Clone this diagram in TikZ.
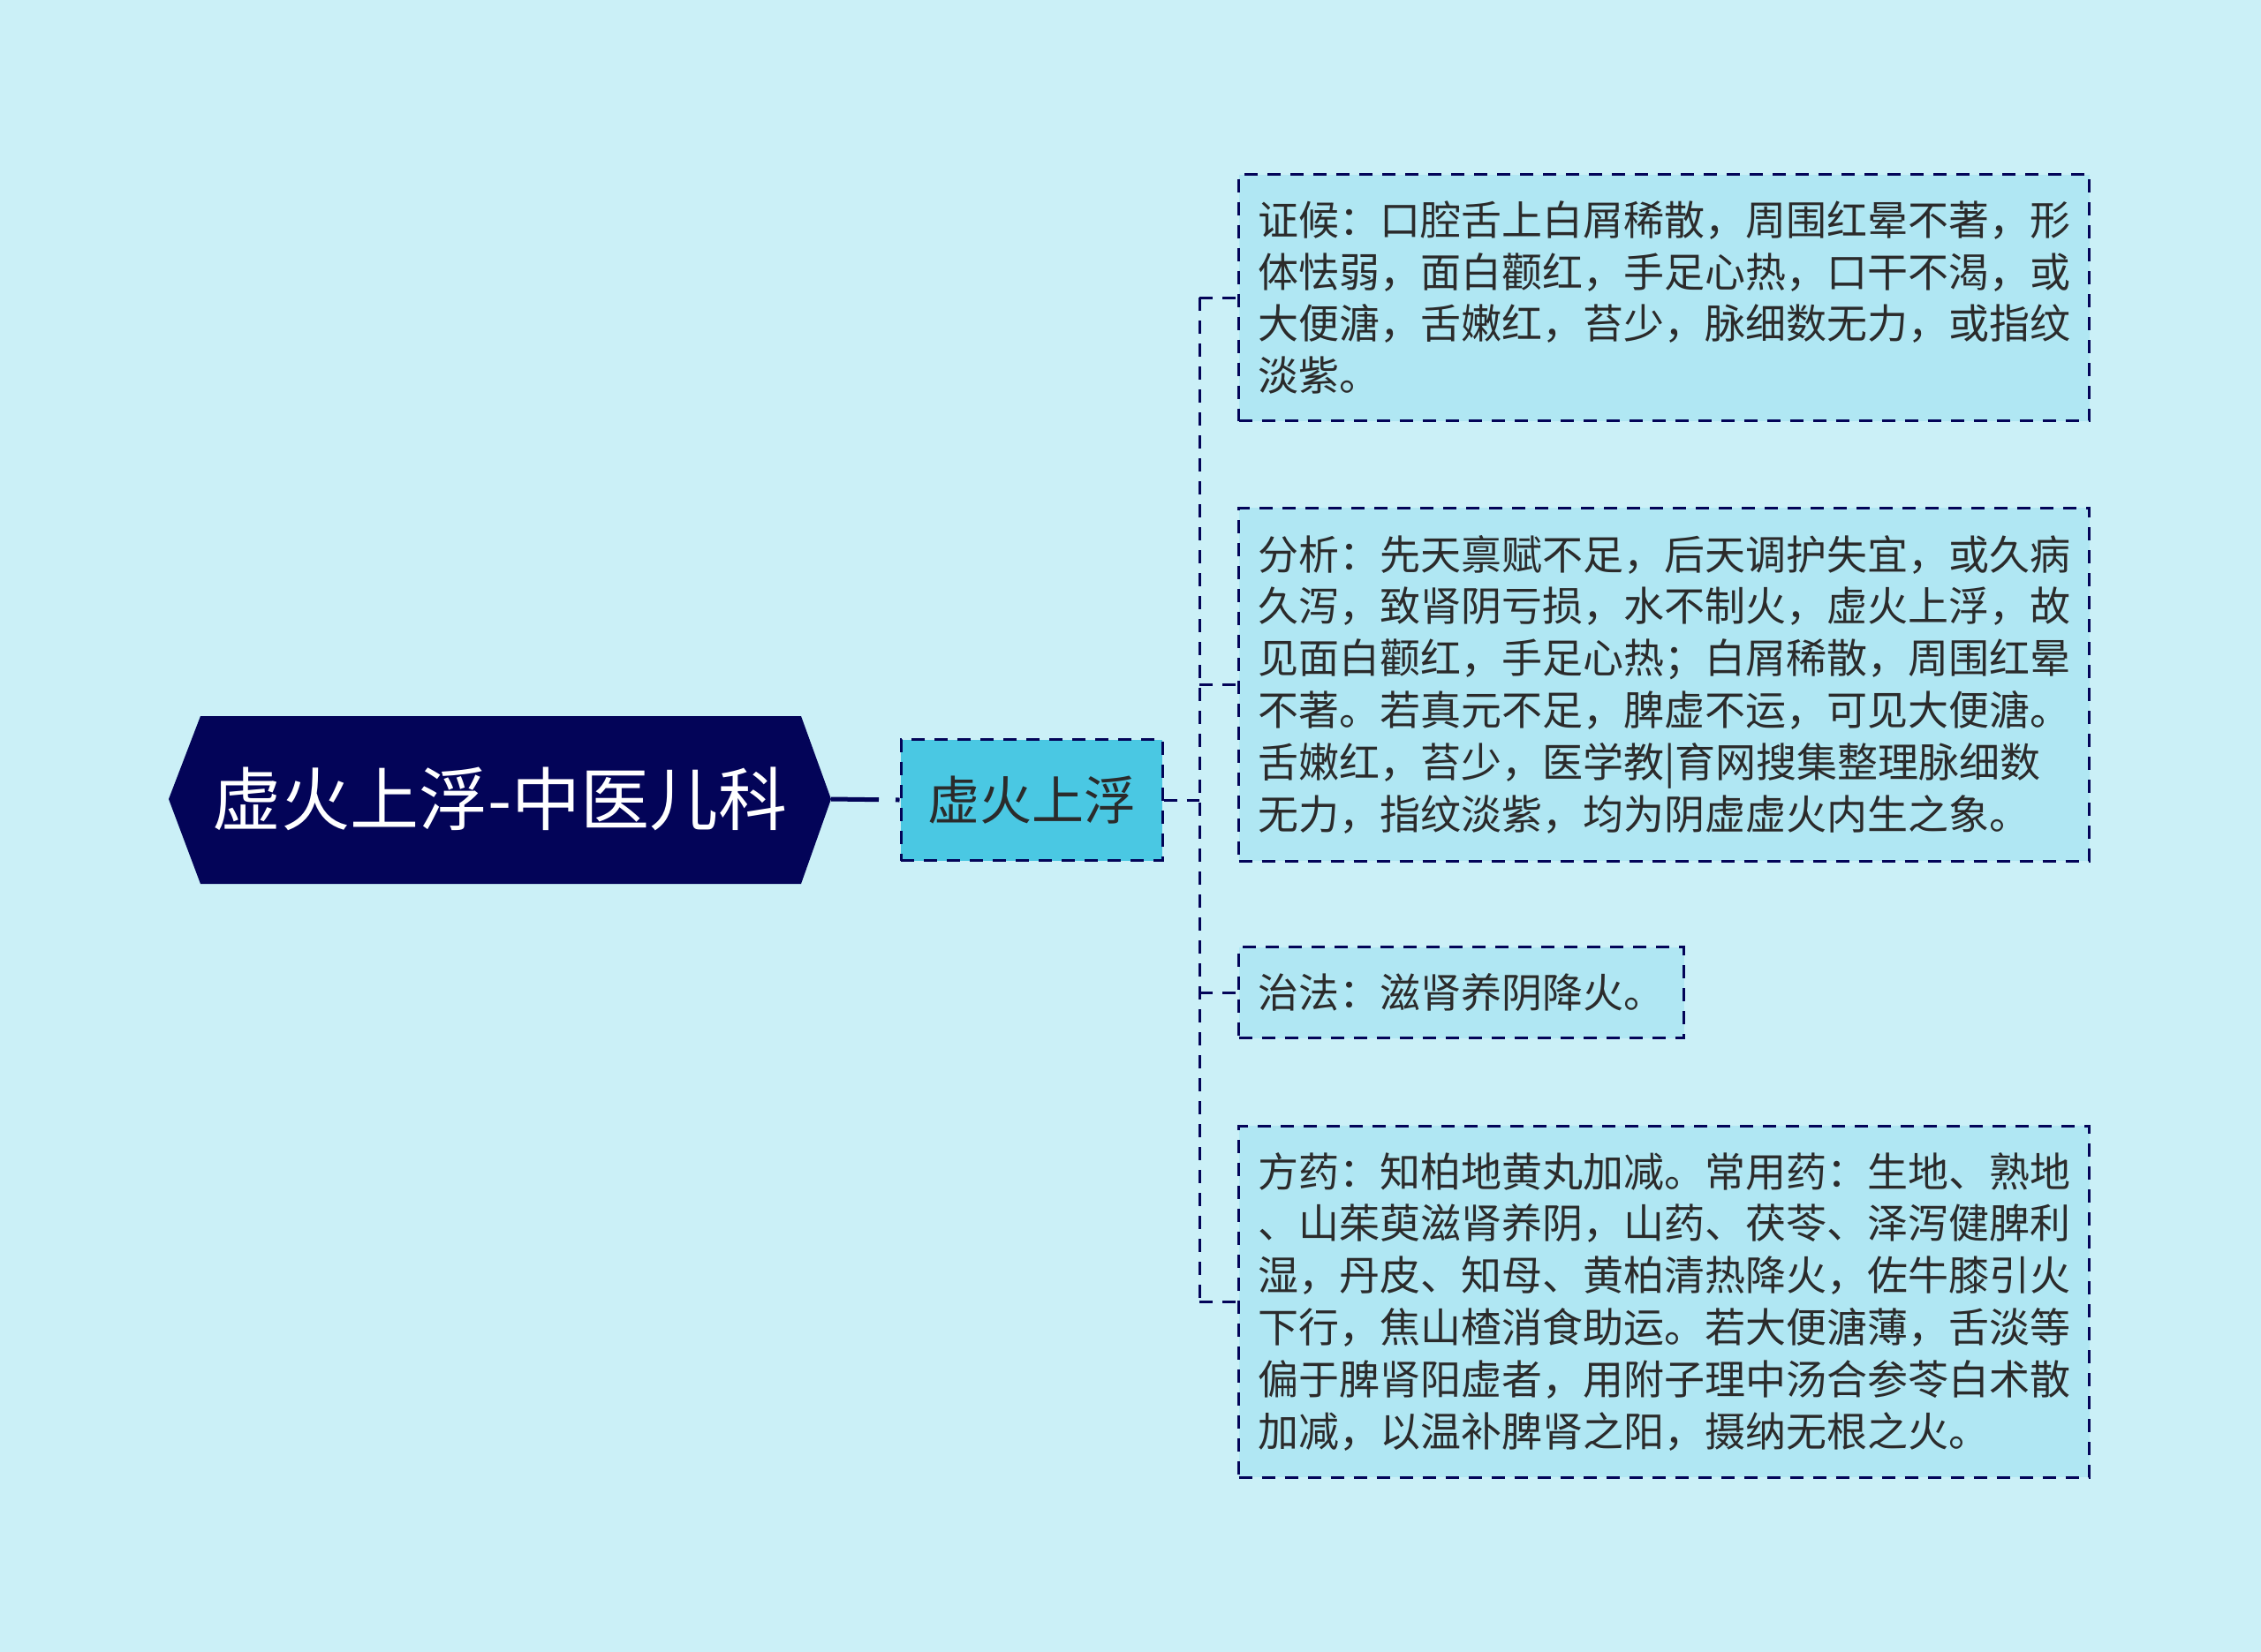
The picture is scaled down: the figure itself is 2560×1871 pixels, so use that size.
\documentclass[tikz,border=0pt]{standalone}
\usepackage{fontspec}
\newfontfamily\cjk{Noto Sans CJK SC}
\definecolor{navy}{RGB}{3,4,88}
\definecolor{bgc}{RGB}{203,240,247}
\definecolor{leafc}{RGB}{176,231,243}
\definecolor{childc}{RGB}{74,200,227}
\definecolor{txt}{RGB}{43,43,43}
\begin{document}
\begin{tikzpicture}[x=1pt,y=-1pt,
  conn/.style={draw=navy,line width=3pt,dash pattern=on 15pt off 11pt},
  leaf/.style={draw=navy,fill=leafc,line width=3pt,dash pattern=on 15pt off 11pt,
    anchor=west,inner sep=0pt,align=left,text=txt,
    font=\cjk\fontsize{46}{58.8}\selectfont},
]
\fill[bgc] (0,0) rectangle (2560,1871);
\useasboundingbox (0,0) rectangle (2560,1871);

% root hexagon
\fill[navy] (191,905) -- (227,811) -- (907,811) -- (941,905) -- (907,1001) -- (227,1001) -- cycle;
\node[text=white,inner sep=0pt,font=\cjk\fontsize{78}{90}\selectfont] (root) at (566,905) {虚火上浮-中医儿科};
\coordinate (rootE) at (941,905);

% child
\node[draw=navy,fill=childc,line width=3pt,dash pattern=on 15pt off 11pt,
  minimum width=296pt,minimum height=137pt,inner sep=0pt,text=txt,
  font=\cjk\fontsize{59}{70}\selectfont] (child) at (1168,906) {虚火上浮};

% leaves
\node[leaf,minimum width=963pt,minimum height=279pt] (b1) at (1401,337) {证候：口腔舌上白屑稀散，周围红晕不著，形\\体怯弱，面白颧红，手足心热，口干不渴，或\\大便溏，舌嫩红，苔少，脉细数无力，或指纹\\淡紫。};
\node[leaf,minimum width=963pt,minimum height=400pt] (b2) at (1401,775) {分析：先天禀赋不足，后天调护失宜，或久病\\久泻，致肾阴亏损，水不制火，虚火上浮，故\\见面白颧红，手足心热；白屑稀散，周围红晕\\不著。若真元不足，脾虚不运，可见大便溏。\\舌嫩红，苔少，医学教|育网搜集整理脉细数\\无力，指纹淡紫，均为阴虚虚火内生之象。};
\node[leaf,minimum width=504pt,minimum height=103pt] (b3) at (1401,1124) {治法：滋肾养阴降火。};
\node[leaf,minimum width=963pt,minimum height=398pt] (b4) at (1401,1474) {方药：知柏地黄丸加减。常用药：生地、熟地\\、山茱萸滋肾养阴，山药、茯苓、泽泻健脾利\\湿，丹皮、知母、黄柏清热降火，佐牛膝引火\\下行，焦山楂消食助运。若大便溏薄，舌淡等\\偏于脾肾阳虚者，用附子理中汤合参苓白术散\\加减，以温补脾肾之阳，摄纳无根之火。};

% connectors
\draw[navy,line width=5pt,dash pattern=on 54pt off 19pt on 12pt off 100pt] (rootE) -- (child.west);
\coordinate (j) at (1358,906);
\draw[conn] (child.east) -- (j);
\draw[conn] (b1.west -| j) -- (b4.west -| j);
\draw[conn] (b1.west -| j) -- (b1.west);
\draw[conn] (b2.west -| j) -- (b2.west);
\draw[conn] (b3.west -| j) -- (b3.west);
\draw[conn] (b4.west -| j) -- (b4.west);
\end{tikzpicture}
\end{document}
